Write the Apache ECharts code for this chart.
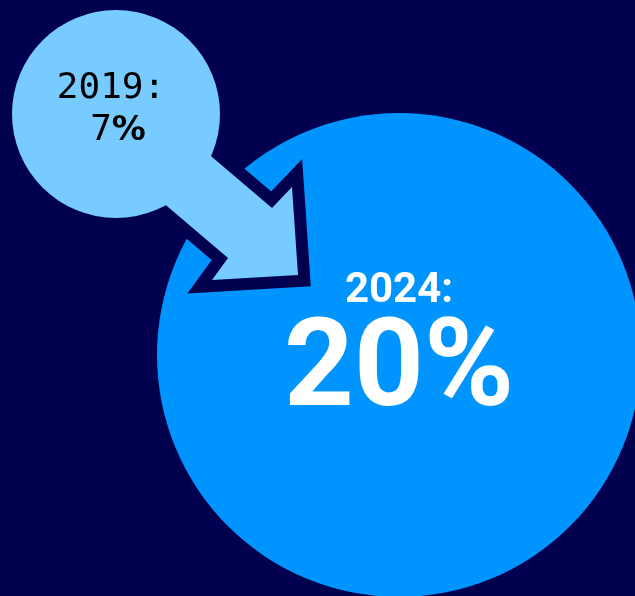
<!DOCTYPE html>
<html>
<head>
<meta charset="utf-8">
<script src="https://cdn.jsdelivr.net/npm/echarts@6/dist/echarts.min.js"></script>
<style>
  html, body { margin: 0; padding: 0; background: #00004f; }
  #chart { width: 635px; height: 596px; }
</style>
</head>
<body>
<div id="chart"></div>
<script>
// Share values for the two survey years
const years = ['2019', '2024'];
const shares = [7, 20];

const NAVY = '#00004f';
const LIGHT = '#78cbff';
const BRIGHT = '#0094ff';

const chart = echarts.init(document.getElementById('chart'), null, { renderer: 'canvas' });

// Arrow outline (shaft + head) running from the small bubble into the large one
const arrowPts = [[158, 111], [272, 208], [292, 187], [298, 275], [212, 280], [228, 258], [114, 161]];

chart.setOption({
  backgroundColor: NAVY,
  animation: false,
  graphic: [
    { type: 'circle', z: 1, shape: { cx: 399, cy: 355, r: 242 }, style: { fill: BRIGHT } },
    { type: 'polygon', z: 2, shape: { points: arrowPts },
      style: { fill: NAVY, stroke: NAVY, lineWidth: 24, lineJoin: 'miter', miterLimit: 20 } },
    { type: 'polygon', z: 3, shape: { points: arrowPts }, style: { fill: LIGHT } },
    { type: 'circle', z: 4, shape: { cx: 116, cy: 114, r: 104 }, style: { fill: LIGHT } },
    { type: 'text', z: 5, x: 111, y: 89,
      style: { text: years[0] + ':', fill: '#000', font: '400 36px "DejaVu Sans Mono"', align: 'center', verticalAlign: 'middle' } },
    { type: 'text', z: 5, x: 118, y: 131,
      style: { text: '{a|' + shares[0] + '}{b|%}', align: 'center', verticalAlign: 'middle',
        rich: {
          a: { fill: '#000', font: '400 36px "DejaVu Sans Mono"' },
          b: { fill: '#000', font: '700 34px "DejaVu Sans"' }
        } } },
    { type: 'text', z: 5, x: 399, y: 291,
      style: { text: years[1] + ':', fill: '#fff', font: '700 42px Roboto', align: 'center', verticalAlign: 'middle' } },
    { type: 'text', z: 5, x: 399, y: 374,
      style: { text: shares[1] + '%', fill: '#fff', font: '700 122px Roboto', align: 'center', verticalAlign: 'middle' } }
  ]
});
</script>
</body>
</html>
